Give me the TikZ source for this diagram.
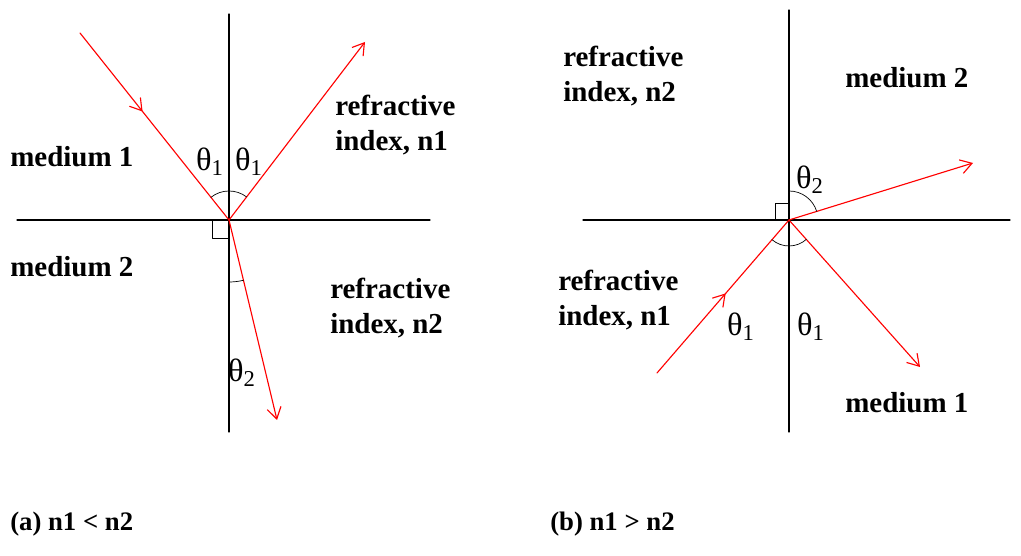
\documentclass[tikz,border=0pt]{standalone}
\usepackage{fontspec}
\setmainfont{Liberation Serif}
\usetikzlibrary{arrows.meta,decorations.markings}

\tikzset{
	ray/.style={red, line width=0.8pt},
	tipbarb/.style={-{Straight Barb[length=8pt,width=10pt]}},
	midbarb/.style={postaction={decorate}, decoration={markings,
		mark=at position #1 with {\arrow{Straight Barb[length=8pt,width=10pt]}}}},
	axis/.style={black, line width=0.9pt},
	anglearc/.style={black, line width=0.5pt},
	lbl/.style={font=\bfseries\fontsize{20.6pt}{24.9pt}\selectfont, align=left, inner sep=0pt, anchor=west},
	caplbl/.style={lbl, font=\bfseries\fontsize{19pt}{22pt}\selectfont},
	anglbl/.style={font=\fontsize{23pt}{26pt}\selectfont, inner sep=0pt}
}

\begin{document}
\begin{tikzpicture}[x=0.025cm, y=0.025cm, line cap=round, line join=round]
	% Window in pixels of the original
	\useasboundingbox (0,0) rectangle (1021,556);
	
	% ---------- (a) n1 < n2 ----------
	\begin{scope}[shift={(229,336)}]
		\coordinate (Oa) at (0,0);
		\coordinate (Ia) at (-149,187);  % incident start
		\coordinate (Ra) at (136,178);   % reflected end
		\coordinate (Ta) at (48,-200);   % refracted end
		
		% Axes
		\draw[axis] (-212,0) -- (201,0);
		\draw[axis] (0,206) -- (0,-212);
		
		% Right angle mark
		\draw[anglearc] (-17,0) -- (-17,-18) -- (0,-18);
		
		% Rays
		\draw[ray, midbarb=0.42] (Ia) -- (Oa);
		\draw[ray, tipbarb] (Oa) -- (Ra);
		\draw[ray, tipbarb] (Oa) -- (Ta);
		
		% Angle arcs
		\draw[anglearc] (52.6:29) arc[start angle=52.6, end angle=128.5, radius=29];
		\draw[anglearc] (-90:62) arc[start angle=-90, end angle=-76.5, radius=62];
		
		% Angle labels
		\node[anglbl] (ta1) at (-19,58) {θ\textsubscript{1}};
		\node[anglbl] (ta2) at (20,58) {θ\textsubscript{1}};
		\node[anglbl] (ta3) at (13,-153) {θ\textsubscript{2}};
		
		% Media
		\node[lbl] (medA1) at (-219,63) {medium 1};
		\node[lbl] (medA2) at (-219,-47) {medium 2};
		\node[lbl] (refA1) at (106,95) {refractive\\index, n1};
		\node[lbl] (refA2) at (101,-88) {refractive\\index, n2};
	\end{scope}
	
	% ---------- (b) n1 > n2 ----------
	\begin{scope}[shift={(789,336)}]
		\coordinate (Ob) at (0,0);
		\coordinate (Ib) at (-132,-153); % incident start
		\coordinate (Rb) at (131,-147);  % reflected end
		\coordinate (Tb) at (184,57);    % refracted end
		
		% Axes
		\draw[axis] (-206,0) -- (221,0);
		\draw[axis] (0,210) -- (0,-212);
		
		% Right angle mark
		\draw[anglearc] (-14,0) -- (-14,17) -- (0,17);
		
		% Rays
		\draw[ray, midbarb=0.52] (Ib) -- (Ob);
		\draw[ray, tipbarb] (Ob) -- (Rb);
		\draw[ray, tipbarb] (Ob) -- (Tb);
		
		% Angle arcs
		\draw[anglearc] (90:29) arc[start angle=90, end angle=17.2, radius=29];
		\draw[anglearc] (-130.8:26) arc[start angle=-130.8, end angle=-48.3, radius=26];
		
		% Angle labels
		\node[anglbl] (tb1) at (21,40) {θ\textsubscript{2}};
		\node[anglbl] (tb2) at (-48,-107) {θ\textsubscript{1}};
		\node[anglbl] (tb3) at (22,-107) {θ\textsubscript{1}};
		
		% Media
		\node[lbl] (refB2) at (-226,144) {refractive\\index, n2};
		\node[lbl] (medB2) at (56,142) {medium 2};
		\node[lbl] (refB1) at (-231,-80) {refractive\\index, n1};
		\node[lbl] (medB1) at (56,-183) {medium 1};
	\end{scope}
	
	% Captions
	\node[caplbl] (capA) at (10,32) {(a) n1 < n2};
	\node[caplbl] (capB) at (550,32) {(b) n1 > n2};
\end{tikzpicture}
\end{document}
